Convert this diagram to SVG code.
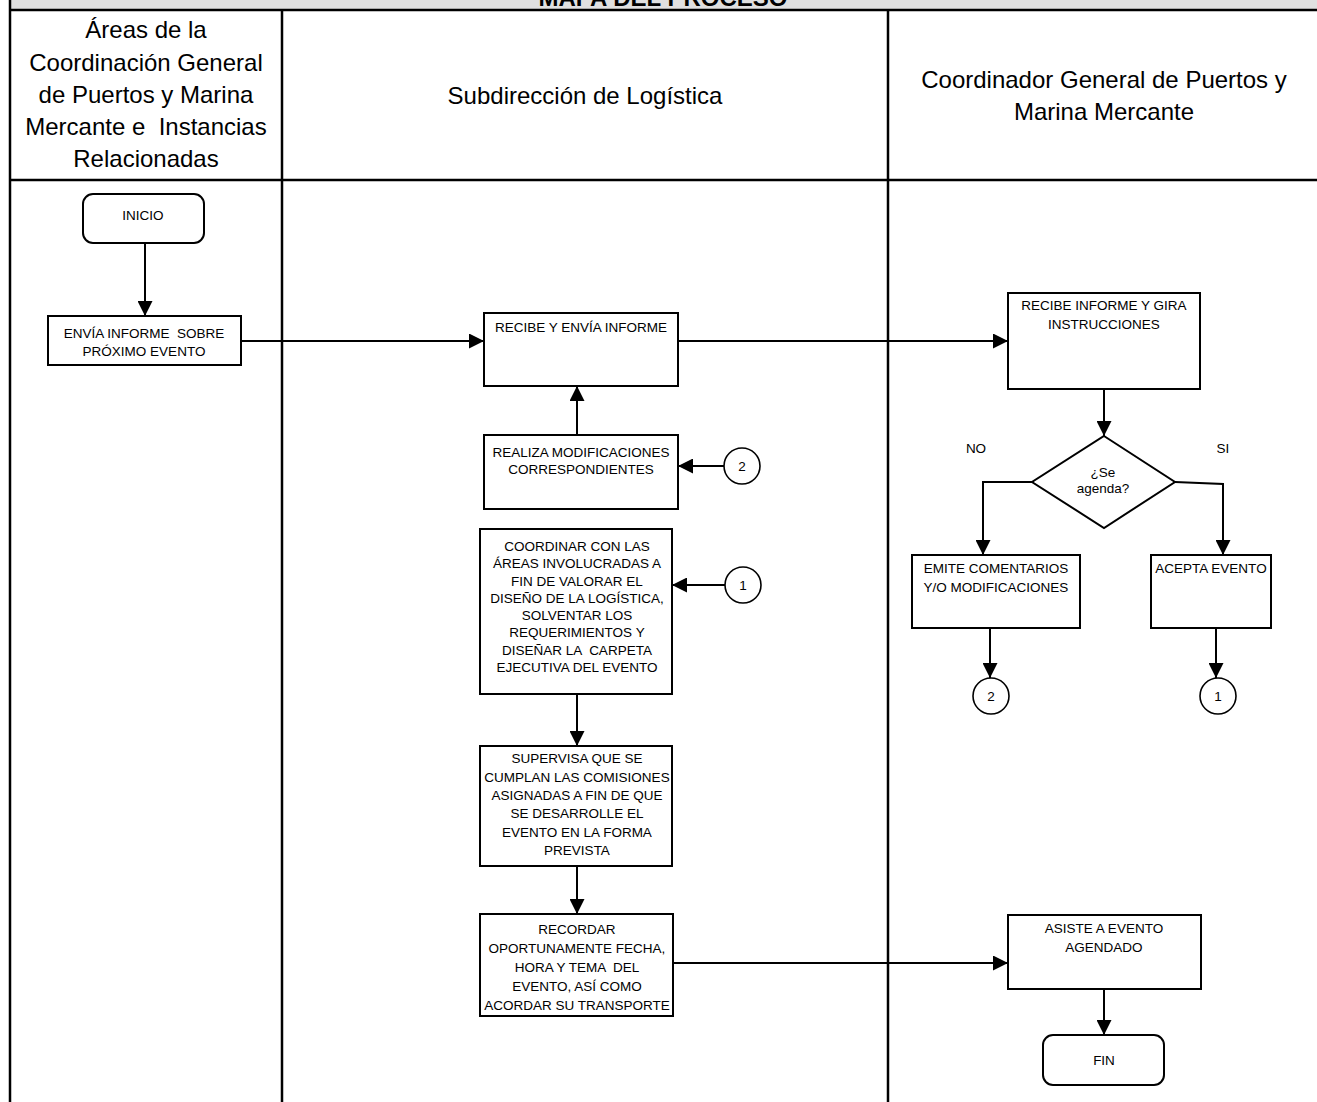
<svg xmlns="http://www.w3.org/2000/svg" width="1317" height="1102" viewBox="0 0 1317 1102">
<style>
text{font-family:"Liberation Sans",Arial,sans-serif;fill:#000;text-anchor:middle;white-space:pre}
.h{font-size:24px}
.t{font-size:13.5px}
.title{font-size:24px;font-weight:bold}
.box{fill:#fff;stroke:#000;stroke-width:2}
.circ{fill:#fff;stroke:#000;stroke-width:1.6}
.grid{stroke:#000;stroke-width:2.5;fill:none}
.c{stroke:#000;stroke-width:2;fill:none;marker-end:url(#ah)}
</style>
<defs>
<marker id="ah" markerUnits="userSpaceOnUse" markerWidth="15" markerHeight="15" refX="15" refY="7.5" orient="auto">
<path d="M0,0 L15,7.5 L0,15 z" fill="#000"/>
</marker>
</defs>
<rect x="0" y="0" width="1317" height="1102" fill="#fff"/>
<g id="frame">
<rect x="10" y="0" width="1307" height="10" fill="#e0e0e0"/>
<text class="title" x="663" y="6">MAPA DEL PROCESO</text>
<path class="grid" d="M10,0 V1102 M10,10 H1317 M10,180 H1317 M282,10 V1102 M888,10 V1102"/>
</g>
<g id="lane-headers">
<text class="h" x="146" y="38">Áreas de la</text>
<text class="h" x="146" y="71">Coordinación General</text>
<text class="h" x="146" y="103">de Puertos y Marina</text>
<text class="h" x="146" y="135" xml:space="preserve">Mercante e  Instancias</text>
<text class="h" x="146" y="167">Relacionadas</text>
<text class="h" x="585" y="104">Subdirección de Logística</text>
<text class="h" x="1104" y="88">Coordinador General de Puertos y</text>
<text class="h" x="1104" y="120">Marina Mercante</text>
</g>
<g id="connectors">
<path class="c" d="M145,243 V316"/>
<path class="c" d="M241,341 H484"/>
<path class="c" d="M678,341 H1008"/>
<path class="c" d="M1104,389 V436"/>
<path class="c" d="M1032,482 H983 V555"/>
<path class="c" d="M1175,482 L1223,484 V555"/>
<path class="c" d="M990,628 V678"/>
<path class="c" d="M1216,628 V678"/>
<path class="c" d="M724,466 H678"/>
<path class="c" d="M725,585 H672"/>
<path class="c" d="M577,435 V386"/>
<path class="c" d="M577,694 V746"/>
<path class="c" d="M577,866 V914"/>
<path class="c" d="M673,963 H1008"/>
<path class="c" d="M1104,989 V1035"/>
<text class="t" x="976" y="453">NO</text>
<text class="t" x="1223" y="453">SI</text>
</g>
<g id="inicio">
<rect class="box" x="83" y="194" width="121" height="49" rx="10"/>
<text class="t" x="143" y="220">INICIO</text>
</g>
<g id="envia">
<rect class="box" x="48" y="316" width="193" height="49"/>
<text class="t" x="144" y="338" xml:space="preserve">ENVÍA INFORME  SOBRE</text>
<text class="t" x="144" y="356">PRÓXIMO EVENTO</text>
</g>
<g id="recibe-envia">
<rect class="box" x="484" y="313" width="194" height="73"/>
<text class="t" x="581" y="332">RECIBE Y ENVÍA INFORME</text>
</g>
<g id="realiza">
<rect class="box" x="484" y="435" width="194" height="74"/>
<text class="t" x="581" y="457">REALIZA MODIFICACIONES</text>
<text class="t" x="581" y="474">CORRESPONDIENTES</text>
</g>
<g id="coordinar">
<rect class="box" x="480" y="529" width="192" height="165"/>
<text class="t" x="577" y="551">COORDINAR CON LAS</text>
<text class="t" x="577" y="568">ÁREAS INVOLUCRADAS A</text>
<text class="t" x="577" y="586">FIN DE VALORAR EL</text>
<text class="t" x="577" y="603">DISEÑO DE LA LOGÍSTICA,</text>
<text class="t" x="577" y="620">SOLVENTAR LOS</text>
<text class="t" x="577" y="637">REQUERIMIENTOS Y</text>
<text class="t" x="577" y="655" xml:space="preserve">DISEÑAR LA  CARPETA</text>
<text class="t" x="577" y="672">EJECUTIVA DEL EVENTO</text>
</g>
<g id="supervisa">
<rect class="box" x="480" y="746" width="192" height="120"/>
<text class="t" x="577" y="763">SUPERVISA QUE SE</text>
<text class="t" x="577" y="782">CUMPLAN LAS COMISIONES</text>
<text class="t" x="577" y="800">ASIGNADAS A FIN DE QUE</text>
<text class="t" x="577" y="818">SE DESARROLLE EL</text>
<text class="t" x="577" y="837">EVENTO EN LA FORMA</text>
<text class="t" x="577" y="855">PREVISTA</text>
</g>
<g id="recordar">
<rect class="box" x="480" y="914" width="193" height="102"/>
<text class="t" x="577" y="934">RECORDAR</text>
<text class="t" x="577" y="953">OPORTUNAMENTE FECHA,</text>
<text class="t" x="577" y="972" xml:space="preserve">HORA Y TEMA  DEL</text>
<text class="t" x="577" y="991">EVENTO, ASÍ COMO</text>
<text class="t" x="577" y="1010">ACORDAR SU TRANSPORTE</text>
</g>
<g id="con2-left">
<circle class="circ" cx="742" cy="466" r="18"/>
<text class="t" x="742" y="471">2</text>
</g>
<g id="con1-left">
<circle class="circ" cx="743" cy="585" r="18"/>
<text class="t" x="743" y="590">1</text>
</g>
<g id="recibe-informe">
<rect class="box" x="1008" y="293" width="192" height="96"/>
<text class="t" x="1104" y="310">RECIBE INFORME Y GIRA</text>
<text class="t" x="1104" y="329">INSTRUCCIONES</text>
</g>
<g id="decision">
<polygon class="box" points="1104,436 1175,482 1104,528 1032,482"/>
<text class="t" x="1103" y="477">¿Se</text>
<text class="t" x="1103" y="493">agenda?</text>
</g>
<g id="emite">
<rect class="box" x="912" y="555" width="168" height="73"/>
<text class="t" x="996" y="573">EMITE COMENTARIOS</text>
<text class="t" x="996" y="592">Y/O MODIFICACIONES</text>
</g>
<g id="acepta">
<rect class="box" x="1151" y="555" width="120" height="73"/>
<text class="t" x="1211" y="573">ACEPTA EVENTO</text>
</g>
<g id="con2-right">
<circle class="circ" cx="991" cy="696" r="18"/>
<text class="t" x="991" y="701">2</text>
</g>
<g id="con1-right">
<circle class="circ" cx="1218" cy="696" r="18"/>
<text class="t" x="1218" y="701">1</text>
</g>
<g id="asiste">
<rect class="box" x="1008" y="915" width="193" height="74"/>
<text class="t" x="1104" y="933">ASISTE A EVENTO</text>
<text class="t" x="1104" y="952">AGENDADO</text>
</g>
<g id="fin">
<rect class="box" x="1043" y="1035" width="121" height="50" rx="10"/>
<text class="t" x="1104" y="1065">FIN</text>
</g>
</svg>
